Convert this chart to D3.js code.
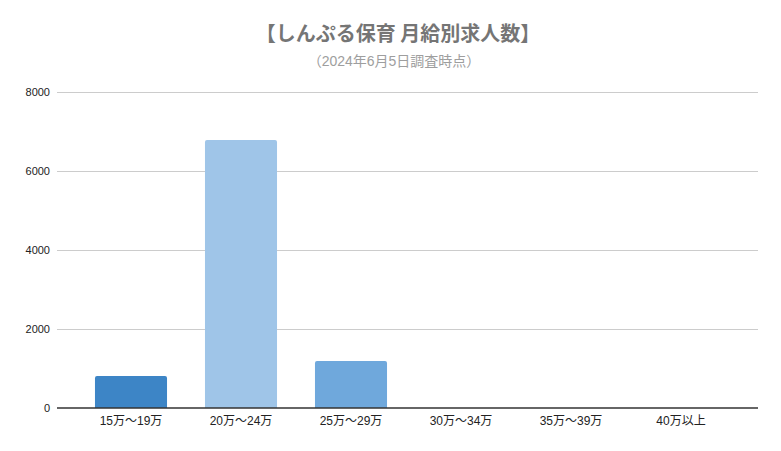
<!DOCTYPE html>
<html><head><meta charset="utf-8">
<script src="https://cdn.jsdelivr.net/npm/d3@7"></script>
<style>
html,body{margin:0;padding:0;background:#fff;}
svg{display:block;font-family:"Liberation Sans",Arial,"Noto Sans CJK JP",sans-serif;}
</style></head><body>
<svg id="c" width="781" height="451"></svg>
<script>
const categories = ["15万～19万","20万～24万","25万～29万","30万～34万","35万～39万","40万以上"];
const values = [810, 6785, 1190, 0, 0, 0];
const colors = ["#3d85c6","#9fc5e8","#6fa8dc","#3d85c6","#3d85c6","#3d85c6"];
const yTicks = [0, 2000, 4000, 6000, 8000];
const title = "【しんぷる保育 月給別求人数】";
const subtitle = "（2024年6月5日調査時点）";

const svg = d3.select("#c");
const x = d3.scaleBand().domain(categories).range([76, 736]).paddingInner(0.345).paddingOuter(0.1725);
const y = d3.scaleLinear().domain([0, 8000]).range([408, 92]);

svg.append("text").attr("x", 398).attr("y", 41).attr("text-anchor","middle")
  .attr("font-size", 20).attr("font-weight","bold").attr("fill","#757575")
  .attr("font-family",'"Noto Sans CJK JP",sans-serif').text(title);
svg.append("text").attr("x", 394).attr("y", 66).attr("text-anchor","middle")
  .attr("font-size", 14).attr("fill","#9e9e9e")
  .attr("font-family",'"Liberation Sans","Noto Sans CJK JP",sans-serif').text(subtitle);

// grid
svg.append("g").selectAll("line").data(yTicks.filter(d=>d>0)).join("line")
  .attr("x1",57).attr("x2",758).attr("y1",d=>y(d)+0.5).attr("y2",d=>y(d)+0.5)
  .attr("stroke","#cccccc").attr("stroke-width",1);

// y labels
svg.append("g").selectAll("text").data(yTicks).join("text")
  .attr("x",50).attr("y",d=>y(d)+4).attr("text-anchor","end")
  .attr("font-size",11).attr("fill","#222").text(d=>d);

// bars with rounded top
const r = 2;
svg.append("g").selectAll("path").data(values.map((v,i)=>({v,i}))).join("path")
  .filter(d=>d.v>0)
  .attr("fill",d=>colors[d.i])
  .attr("d",d=>{
    const x0 = x(categories[d.i]), w = x.bandwidth(), y0 = y(d.v), yb = y(0);
    return `M${x0},${yb}V${y0+r}Q${x0},${y0} ${x0+r},${y0}H${x0+w-r}Q${x0+w},${y0} ${x0+w},${y0+r}V${yb}Z`;
  });

// baseline
svg.append("line").attr("x1",57).attr("x2",758).attr("y1",y(0)).attr("y2",y(0))
  .attr("stroke","#333").attr("stroke-width",1.3);

// x labels
svg.append("g").selectAll("text").data(categories).join("text")
  .attr("x",d=>x(d)+x.bandwidth()/2).attr("y",425).attr("text-anchor","middle")
  .attr("font-size",12).attr("fill","#222").text(d=>d);
</script>
</body></html>
